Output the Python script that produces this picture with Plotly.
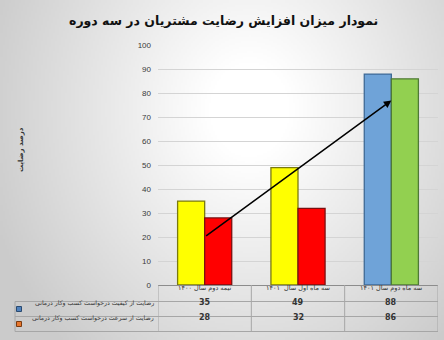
import base64, struct, zlib
import numpy as np
import plotly.graph_objects as go

# ---------------- data ----------------
title = "نمودار میزان افزایش رضایت مشتریان در سه دوره"
y_title = "درصد رضایت"
categories = ["نیمه دوم سال ۱۴۰۰", "سه ماه اول سال  ۱۴۰۱", "سه ماه دوم سال ۱۴۰۱"]
series_names = ["رضایت از کیفیت درخواست کسب وکار درمانی",
                "رضایت از سرعت درخواست کسب وکار درمانی"]
quality = [35, 49, 88]
speed = [28, 32, 86]
trend_start = 20   # arrow start value (at first period)
trend_end = 77     # arrow end value (at last period)

# ---------------- styles ----------------
W, H = 444, 340
q_colors = ["#ffff00", "#ffff00", "#6fa3d8"]
q_lines = ["#7a7a10", "#7a7a10", "#3f6a96"]
s_colors = ["#ff0000", "#ff0000", "#92d050"]
s_lines = ["#7a1010", "#7a1010", "#4f7a36"]
key_colors = ["#4f81bd", "#e8762c"]
key_lines = ["#2a4a70", "#7a3a10"]


def png_data_uri(arr):
    h, w, _ = arr.shape
    raw = b"".join(b"\x00" + arr[i].tobytes() for i in range(h))

    def chunk(t, d):
        c = struct.pack(">I", len(d)) + t + d
        return c + struct.pack(">I", zlib.crc32(t + d) & 0xffffffff)
    png = (b"\x89PNG\r\n\x1a\n" + chunk(b"IHDR", struct.pack(">IIBBBBB", w, h, 8, 2, 0, 0, 0))
           + chunk(b"IDAT", zlib.compress(raw, 9)) + chunk(b"IEND", b""))
    return "data:image/png;base64," + base64.b64encode(png).decode()


# radial gray background
gw, gh = 222, 170
yy, xx = np.mgrid[0:gh, 0:gw]
cx, cy = gw * 0.56, gh * 0.32
d = np.sqrt(((xx - cx) / (gw * 0.62)) ** 2 + ((yy - cy) / (gh * 0.95)) ** 2)
t = np.clip((d - 0.15) / 0.85, 0, 1)
v = (255 - t * 52).astype(np.uint8)
bg = np.stack([v, v, v], axis=-1)

def px(x):
    return x / W

def py(y):
    return 1 - y / H

xs = list(range(len(categories)))
fig = go.Figure()
fig.add_trace(go.Bar(x=xs, y=quality, name=series_names[0],
                     marker=dict(color=q_colors, line=dict(color=q_lines, width=1.3))))
fig.add_trace(go.Bar(x=xs, y=speed, name=series_names[1],
                     marker=dict(color=s_colors, line=dict(color=s_lines, width=1.3))))

y_bottom, y_top = 285, 45.3
fig.update_layout(
    width=W, height=H, margin=dict(l=0, r=0, t=0, b=0, autoexpand=False),
    paper_bgcolor="#dcdcdc", plot_bgcolor="rgba(0,0,0,0)",
    showlegend=False, barmode="group", bargap=0.42, bargroupgap=0,
    font=dict(family="DejaVu Sans", color="#333333"),
    xaxis=dict(domain=[px(158), px(438)], range=[-0.5, 2.5], showticklabels=False,
               showgrid=False, zeroline=False, showline=True, linecolor="#8c8c8c",
               linewidth=1, ticks=""),
    yaxis=dict(domain=[py(y_bottom), py(y_top)], range=[0, 100], dtick=10,
               showgrid=True, gridcolor="#d4d4d4", gridwidth=1, zeroline=False,
               tickfont=dict(size=8, color="#3a3a3a", family="Liberation Sans"),
               ticklabelstandoff=6),
    images=[dict(source=png_data_uri(bg), xref="paper", yref="paper", x=0, y=1,
                 sizex=1, sizey=1, sizing="stretch", layer="below", xanchor="left",
                 yanchor="top")],
)

ann = []
ann.append(dict(text="<b>" + title + "</b>", x=px(224), y=py(20), xref="paper", yref="paper",
                showarrow=False, font=dict(size=12.5, color="#111111"), xanchor="center",
                yanchor="middle"))
ann.append(dict(text="<b>" + y_title + "</b>", x=px(15), y=py(150), xref="paper", yref="paper",
                showarrow=False, textangle=-90, font=dict(size=7, color="#333333")))
# trend arrow
ann.append(dict(x=xs[-1], y=trend_end, ax=xs[0], ay=trend_start, xref="x", yref="y",
                axref="x", ayref="y", showarrow=True, arrowhead=2, arrowsize=1,
                arrowwidth=1.5, arrowcolor="#000000", text=""))

# data table
row_y = [293.5, 309, 324]
for i, c in enumerate(categories):
    ann.append(dict(text=c, x=xs[i], y=py(row_y[0]), xref="x", yref="paper", showarrow=False,
                    font=dict(size=6.5, color="#333333")))
    ann.append(dict(text="<b>" + str(quality[i]) + "</b>", x=xs[i], y=py(row_y[1]), xref="x",
                    yref="paper", showarrow=False, font=dict(size=8, color="#333333")))
    ann.append(dict(text="<b>" + str(speed[i]) + "</b>", x=xs[i], y=py(row_y[2]), xref="x",
                    yref="paper", showarrow=False, font=dict(size=8, color="#333333")))
for k, name in enumerate(series_names):
    ann.append(dict(text=name, x=px(156), y=py(row_y[k + 1]), xref="paper", yref="paper",
                    xanchor="right", showarrow=False, font=dict(size=6.2, color="#333333")))

shapes = []
lc = "#a6a6a6"
for yl in [301.5, 316.5, 331.5]:
    shapes.append(dict(type="line", xref="paper", yref="paper", x0=px(15), x1=px(438),
                       y0=py(yl), y1=py(yl), line=dict(color=lc, width=1)))
shapes.append(dict(type="line", xref="paper", yref="paper", x0=px(15), x1=px(15),
                   y0=py(301.5), y1=py(331.5), line=dict(color=lc, width=1)))
for xv in [-0.5, 0.5, 1.5, 2.5]:
    shapes.append(dict(type="line", xref="x", yref="paper", x0=xv, x1=xv,
                       y0=py(285), y1=py(331.5), line=dict(color=lc, width=1)))
for k in range(2):
    yc = row_y[k + 1]
    shapes.append(dict(type="rect", xref="paper", yref="paper", x0=px(16.5), x1=px(21.5),
                       y0=py(yc - 2.5), y1=py(yc + 2.5), fillcolor=key_colors[k],
                       line=dict(color=key_lines[k], width=1)))

fig.update_layout(annotations=ann, shapes=shapes)
fig.write_html("out.html")
